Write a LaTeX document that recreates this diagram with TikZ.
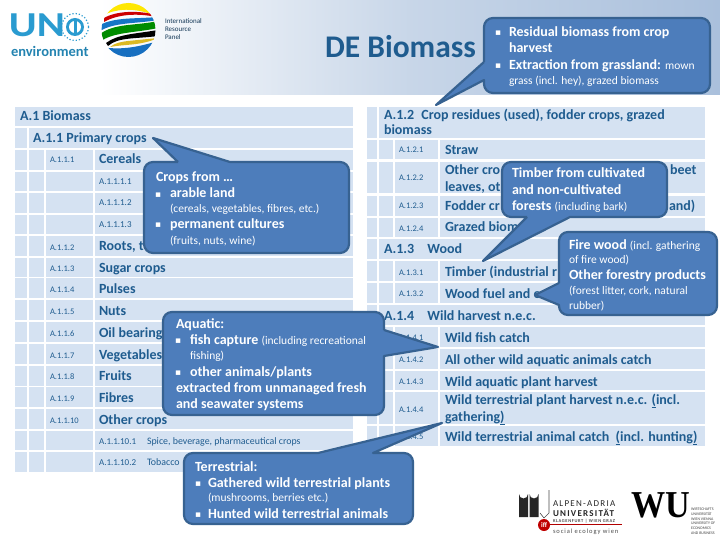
\documentclass[tikz,border=0pt]{standalone}
\usepackage{fontspec}
\setmainfont{Carlito}
\newfontfamily\spacedfont[LetterSpace=14]{Carlito}
\newfontfamily\symfont{DejaVu Sans}
\usetikzlibrary{calc}
\definecolor{cell}{HTML}{D5E2F2}
\definecolor{ink}{HTML}{1F5C8F}
\definecolor{calfill}{HTML}{4D7DBB}
\definecolor{calline}{HTML}{376291}
\definecolor{headr}{HTML}{AAC0DC}
\definecolor{unblue}{HTML}{2A9BD0}
\newcommand{\fs}[1]{\fontsize{#1}{#1}\selectfont}
\tikzset{
  x=1pt,y=-1pt,
  txt/.style={anchor=base west,inner sep=0pt,outer sep=0pt},
  major/.style={txt,text=ink,font=\fs{14}\bfseries},
  lab/.style={txt,text=ink,font=\fs{8.5}},
  sublab/.style={txt,text=ink,font=\fs{9}},
  sublong/.style={txt,text=ink,font=\fs{9.9}},
  head/.style={txt,text=ink,font=\fs{14}\bfseries},
  callout/.style={draw=calline,fill=calfill,line width=2.2pt,line join=round},
  cb/.style={txt,text=white,font=\fs{14}\bfseries},
  cs/.style={txt,text=white,font=\fs{11.5}},
  bul/.style={txt,text=white,font=\fs{9}\symfont},
}
\newcommand{\cellr}[4]{\fill[cell] (#1,#3) rectangle (#2,#4);}
\newcommand{\smalltxt}[1]{{\fs{11.5}\mdseries #1}}
\begin{document}
\begin{tikzpicture}
\useasboundingbox (0,0) rectangle (720,540);
\fill[white] (0,0) rectangle (720,540);
% header band
\shade[left color=white,right color=headr,middle color=white!35!headr] (100,0) rectangle (720,95);
\fill[white] (0,0) rectangle (103,68);
% left table
\cellr{15}{353}{107}{126}
\cellr{15}{27}{128}{148}\cellr{29}{353}{128}{148}
\foreach \a/\b in {150/170,172/191,193/213,215/234,236/256,258/277,278/298,300/320,322/342,344/364,366/386,387/407,409/429,431/450,452/472}{
  \cellr{15}{27}{\a}{\b}\cellr{29}{44}{\a}{\b}\cellr{46}{93}{\a}{\b}\cellr{95}{353}{\a}{\b}
}
% right table
\foreach \a/\b in {107/138,239/259,305/325}{\cellr{367}{377}{\a}{\b}\cellr{379}{705}{\a}{\b}}
\foreach \a/\b in {140/159,162/193,196/216,218/237,261/281,283/303,327/347,349/369,371/390,392/424,426/446}{
  \cellr{367}{377}{\a}{\b}\cellr{379}{393}{\a}{\b}\cellr{395}{438}{\a}{\b}\cellr{440}{705}{\a}{\b}
}
% left text
\node[head] (t1) at (20,121) {A.1 Biomass};
\node[head] (t11) at (33,143) {A.1.1 Primary crops};
\node[lab] (l1) at (50,163) {A.1.1.1};
\node[major] (m1) at (99,164) {Cereals};
\node[sublab] (s1) at (99,185) {A.1.1.1.1};
\node[sublab] (s2) at (99,206) {A.1.1.1.2};
\node[sublab] (s3) at (99,228) {A.1.1.1.3};
\node[lab] (l2) at (50,250) {A.1.1.2};
\node[major] (m2) at (99,251) {Roots, tu};
\node[lab] (l3) at (50,271) {A.1.1.3};
\node[major] (m3) at (99,272) {Sugar crops};
\node[lab] (l4) at (50,292) {A.1.1.4};
\node[major] (m4) at (99,293) {Pulses};
\node[lab] (l5) at (50,314) {A.1.1.5};
\node[major] (m5) at (99,315) {Nuts};
\node[lab] (l6) at (50,336) {A.1.1.6};
\node[major] (m6) at (99,337) {Oil bearing};
\node[lab] (l7) at (50,358) {A.1.1.7};
\node[major] (m7) at (99,359) {Vegetables};
\node[lab] (l8) at (50,379) {A.1.1.8};
\node[major] (m8) at (99,380) {Fruits};
\node[lab] (l9) at (50,401) {A.1.1.9};
\node[major] (m9) at (99,402) {Fibres};
\node[lab] (l10) at (50,423) {A.1.1.10};
\node[major] (m10) at (99,424) {Other crops};
\node[sublab] (s101) at (99,444) {A.1.1.10.1};
\node[sublong] (s101b) at (147,444) {Spice, beverage, pharmaceutical crops};
\node[sublab] (s102) at (99,465) {A.1.1.10.2};
\node[sublong] (s102b) at (147,465) {Tobacco};
% right text
\node[head] (t12a) at (384,120) {A.1.2\hspace{4pt} Crop residues (used), fodder crops, grazed};
\node[head] (t12b) at (384,135) {biomass};
\node[lab] (r1) at (399,153) {A.1.2.1};
\node[major] (q1) at (445,155) {Straw};
\node[lab] (r2) at (399,181) {A.1.2.2};
\node[major] (q2a) at (445,175) {Other cro};
\node[major] (q2b) at (445,192) {leaves, ot};
\node[major] (q2c) at (670,175) {beet};
\node[lab] (r3) at (399,209) {A.1.2.3};
\node[major] (q3) at (445,211) {Fodder cr};
\node[major] (q3b) at (669,211) {and)};
\node[lab] (r4) at (399,231) {A.1.2.4};
\node[major] (q4) at (445,232) {Grazed biom};
\node[head] (t13) at (384,254) {A.1.3\hspace{10pt} Wood};
\node[lab] (r5) at (399,275) {A.1.3.1};
\node[major] (q5) at (445,276) {Timber (industrial r};
\node[lab] (r6) at (399,296) {A.1.3.2};
\node[major] (q6) at (445,298) {Wood fuel and o};
\node[head] (t14) at (384,320) {A.1.4\hspace{10pt} Wild harvest n.e.c.};
\node[lab] (r7) at (399,340) {A.1.4.1};
\node[major] (q7) at (445,342) {Wild fish catch};
\node[lab] (r8) at (399,362) {A.1.4.2};
\node[major] (q8) at (445,364) {All other wild aquatic animals catch};
\node[lab] (r9) at (399,384) {A.1.4.3};
\node[major] (q9) at (445,386) {Wild aquatic plant harvest};
\node[lab] (r10) at (399,412) {A.1.4.4};
\node[major] (q10a) at (445,404) {Wild terrestrial plant harvest n.e.c. \underline{(}incl.};
\node[major] (q10b) at (445,421) {gathering\underline{)}};
\node[lab] (r11) at (399,439) {A.1.4.5};
\node[major] (q11) at (445,441) {Wild terrestrial animal catch \ \underline{(}incl. hunting\underline{)}};
% title
\node[txt,text=ink,font=\fs{31.5}\bfseries] (title) at (325,58) {DE Biomass};
% callouts
\draw[callout] (178,162) [sharp corners] -- (153,138) -- (230,162) [rounded corners=9pt] -- (349,162) -- (349,253) -- (144,253) -- (144,162) -- (178,162);
\draw[callout] (484,62) [sharp corners] -- (436,105) -- (484,80) [rounded corners=9pt] -- (484,93) -- (710,93) -- (710,18) -- (484,18) -- (484,62);
\draw[callout] (527,217) [sharp corners] -- (483,261) -- (570,217) [rounded corners=9pt] -- (667,217) -- (667,162) -- (502,162) -- (502,217) -- (527,217);
\draw[callout] (559,283) [sharp corners] -- (535,295) -- (559,305) [rounded corners=9pt] -- (559,315) -- (717,315) -- (717,232) -- (559,232) -- (559,283);
\draw[callout] (384,330) [sharp corners] -- (438,347) -- (384,356) [rounded corners=9pt] -- (384,415) -- (163,415) -- (163,312) -- (384,312) -- (384,330);
\draw[callout] (318,453) [sharp corners] -- (442,423) -- (373,453) [rounded corners=9pt] -- (413,453) -- (413,524) -- (184,524) -- (184,453) -- (318,453);
% callout text
\node[cb] (c1a) at (156,182) {Crops from …};
\node[bul] (c1b0) at (155,197) {▪};
\node[cb] (c1b) at (170,198) {arable land};
\node[cs] (c1c) at (170,213) {(cereals, vegetables, fibres, etc.)};
\node[bul] (c1d0) at (155,228) {▪};
\node[cb] (c1d) at (170,229) {permanent cultures};
\node[cs] (c1e) at (170,244) {(fruits, nuts, wine)};
\node[bul] (c2a0) at (495,36) {▪};
\node[cb] (c2a) at (509,37) {Residual biomass from crop};
\node[cb] (c2b) at (509,53) {harvest};
\node[bul] (c2c0) at (495,69) {▪};
\node[cb] (c2c) at (509,70) {Extraction from grassland: \smalltxt{mown}};
\node[cs] (c2d) at (509,85) {grass (incl. hey), grazed biomass};
\node[cb] (c3a) at (512,178) {Timber from cultivated};
\node[cb] (c3b) at (512,195) {and non-cultivated};
\node[cb] (c3c) at (512,211) {forests \smalltxt{(including bark)}};
\node[cb] (c4a) at (569,249) {Fire wood \smalltxt{(incl. gathering}};
\node[cs] (c4b) at (569,263) {of fire wood)};
\node[cb] (c4c) at (569,279) {Other forestry products};
\node[cs] (c4d) at (569,294) {(forest litter, cork, natural};
\node[cs] (c4e) at (569,309) {rubber)};
\node[cb] (c5a) at (176,328) {Aquatic:};
\node[bul] (c5b0) at (175,343) {▪};
\node[cb] (c5b) at (190,344) {fish capture \smalltxt{(including recreational}};
\node[cs] (c5c) at (190,359) {fishing)};
\node[bul] (c5d0) at (175,375) {▪};
\node[cb] (c5d) at (190,376) {other animals/plants};
\node[cb] (c5e) at (176,392) {extracted from unmanaged fresh};
\node[cb] (c5f) at (176,408) {and seawater systems};
\node[cb] (c6a) at (195,471) {Terrestrial:};
\node[bul] (c6b0) at (195,486) {▪};
\node[cb] (c6b) at (208,487) {Gathered wild terrestrial plants};
\node[cs] (c6c) at (208,501) {(mushrooms, berries etc.)};
\node[bul] (c6d0) at (195,517) {▪};
\node[cb] (c6d) at (208,518) {Hunted wild terrestrial animals};
% UN logo
\node[txt,text=unblue,font=\fs{35}\bfseries,xscale=1.22,transform shape] (un) at (9,37) {UN};
\draw[unblue,line width=1.2pt,dotted] (75,27) circle (13.5);
\fill[unblue] (75,27) circle (9);
\fill[white] (75,27) circle (6);
\fill[unblue] (73.5,21.5) rectangle (76.5,33);
\node[txt,text=unblue!85!black,font=\fs{14.5}\bfseries] (env) at (11,57) {environment};
% IRP globe
\begin{scope}
\clip (128.5,30) circle (27);
\fill[yellow!90!orange] (100,17) .. controls (115,8) and (135,7) .. (156,16) -- (156,0) -- (100,0) -- cycle;
\fill[red!80!black] (104,22) .. controls (118,14) and (138,13) .. (156,17) -- (156,15) .. controls (138,10) and (116,11) .. (104,18) -- cycle;
\fill[cyan!55!blue] (100,31) .. controls (115,22) and (135,24) .. (158,20) -- (158,17) .. controls (135,19) and (115,17) .. (100,25) -- cycle;
\fill[green!55!black] (100,42) .. controls (112,32) and (135,33) .. (158,28) -- (158,21) .. controls (135,26) and (115,23) .. (100,34) -- cycle;
\fill[black] (108,46) .. controls (118,37) and (135,39) .. (158,36) -- (158,30) .. controls (135,34) and (118,34) .. (106,43) -- cycle;
\fill[brown!55!yellow] (110,47) .. controls (125,44) and (140,46) .. (158,38) -- (128,41) .. controls (120,42) and (115,43) .. (110,47) -- cycle;
\fill[cyan!50!blue] (100,47) .. controls (120,50) and (135,48) .. (158,41) -- (158,60) -- (100,60) -- cycle;
\end{scope}
\node[txt,text=ink!60!black,font=\fs{7}] (irp1) at (165,24) {International};
\node[txt,text=ink!60!black,font=\fs{7}] (irp2) at (165,32) {Resource};
\node[txt,text=ink!60!black,font=\fs{7}] (irp3) at (165,40) {Panel};
% Alpen-Adria logo
\fill[black!85] (519,517) -- (519,494) arc[start angle=180,end angle=0,radius=4.5] -- (528,517) -- cycle;
\fill[black!85] (529.5,517) -- (529.5,494) arc[start angle=180,end angle=0,radius=4.5] -- (538.5,517) -- cycle;
\draw[black!70,line width=0.6pt] (549,490) -- (549,513) -- (544,518) -- (540,513);
\node[txt,text=black!85,font=\fs{9}\spacedfont] (aau1) at (553,506) {ALPEN-ADRIA};
\node[txt,text=black!85,font=\fs{9}\bfseries\spacedfont] (aau2) at (553,516) {UNIVERSITÄT};
\node[txt,text=black!70,font=\fs{4.5}\bfseries\spacedfont] (aau3) at (553,522) {KLAGENFURT | WIEN GRAZ};
\draw[red!70!black,line width=0.5pt] (550,524) -- (622,524);
\fill[red!75!black] (544,525) circle (6);
\node[text=white,font=\fs{7}\bfseries,inner sep=0pt] (iff) at (544,525) {iff};
\node[txt,text=black!70,font=\fs{6.5}\spacedfont] (soc) at (553,533) {social ecology wien};
% WU logo
\node[txt,text=black,font=\fs{38}\bfseries\fontspec{Liberation Serif},xscale=0.9,transform shape] (wu) at (631,517) {WU};
\node[anchor=north west,inner sep=0pt,align=left,text=black!75,font=\fs{3.9}] (wutxt) at (691,508) {WIRTSCHAFTS\\[0.8pt]UNIVERSITÄT\\[0.8pt]WIEN VIENNA\\[0.8pt]UNIVERSITY OF\\[0.8pt]ECONOMICS\\[0.8pt]AND BUSINESS};
\end{tikzpicture}
\end{document}
